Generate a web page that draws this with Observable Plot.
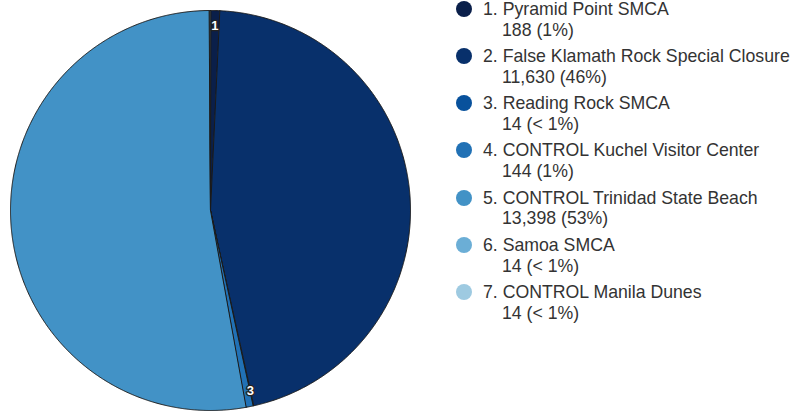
<!DOCTYPE html>
<html>
<head>
<meta charset="utf-8">
<script src="https://cdn.jsdelivr.net/npm/d3@7"></script>
<script src="https://cdn.jsdelivr.net/npm/@observablehq/plot@0.6"></script>
<style>
  html, body { margin: 0; padding: 0; background: #fff; }
  #wrap { position: relative; width: 791px; height: 411px; overflow: hidden; font-family: "Liberation Sans", Arial, sans-serif; }
  #pie { position: absolute; left: 0; top: 0; }
  #legend { position: absolute; left: 456px; top: 0; }
  .item { position: relative; height: 47.15px; }
  .dot { position: absolute; left: 0; top: 1px; width: 16px; height: 16px; border-radius: 50%; }
  .t1, .t2 { position: absolute; white-space: nowrap; font-size: 17.7px; line-height: 18px; color: #333; }
  .t1 { left: 27px; top: 0; }
  .t2 { left: 46px; top: 20.9px; }
</style>
</head>
<body>
<div id="wrap">
  <div id="pie"></div>
  <div id="legend"></div>
</div>
<script>
const names = [
  "1. Pyramid Point SMCA",
  "2. False Klamath Rock Special Closure",
  "3. Reading Rock SMCA",
  "4. CONTROL Kuchel Visitor Center",
  "5. CONTROL Trinidad State Beach",
  "6. Samoa SMCA",
  "7. CONTROL Manila Dunes"
];
const values = [188, 11630, 14, 144, 13398, 14, 14];
const valueLabels = ["188 (1%)", "11,630 (46%)", "14 (< 1%)", "144 (1%)", "13,398 (53%)", "14 (< 1%)", "14 (< 1%)"];
const colors = ["#0a1f4a", "#08306b", "#08519c", "#2171b5", "#4292c6", "#6baed6", "#9ecae1"];
const sliceLabels = ["1", null, "3", null, null, null, null];

const arcs = d3.pie().sort(null).value(d => d)(values);

const rows = [];
arcs.forEach((a, i) => {
  rows.push({slice: i, x: 0, y: 0});
  const n = Math.max(2, Math.ceil((a.endAngle - a.startAngle) / 0.005));
  for (let k = 0; k <= n; k++) {
    const t = a.startAngle + (a.endAngle - a.startAngle) * k / n;
    rows.push({slice: i, x: Math.sin(t), y: Math.cos(t)});
  }
});

const labelRows = arcs
  .map((a, i) => {
    const m = (a.startAngle + a.endAngle) / 2;
    return {text: sliceLabels[i], x: 0.925 * Math.sin(m), y: 0.925 * Math.cos(m)};
  })
  .filter(d => d.text);

const plot = Plot.plot({
  width: 421,
  height: 411,
  margin: 0,
  x: {domain: [-1, 1], range: [10, 410], axis: null},
  y: {domain: [-1, 1], range: [410, 10], axis: null},
  color: {type: "ordinal", domain: d3.range(values.length), range: colors},
  marks: [
    Plot.line(rows, {x: "x", y: "y", z: "slice", fill: "slice", stroke: "#1a1a1a", strokeWidth: 1, curve: "linear-closed"}),
    Plot.text(labelRows, {x: "x", y: "y", text: "text", fill: "white", stroke: "#222", strokeWidth: 2.5, fontSize: 13, fontWeight: "bold", fontFamily: "Liberation Sans, Arial, sans-serif"})
  ]
});
document.getElementById("pie").appendChild(plot);

const legend = document.getElementById("legend");
names.forEach((n, i) => {
  const item = document.createElement("div");
  item.className = "item";
  item.innerHTML = `<div class="dot" style="background:${colors[i]}"></div><div class="t1">${n}</div><div class="t2">${valueLabels[i]}</div>`;
  legend.appendChild(item);
});
</script>
</body>
</html>
